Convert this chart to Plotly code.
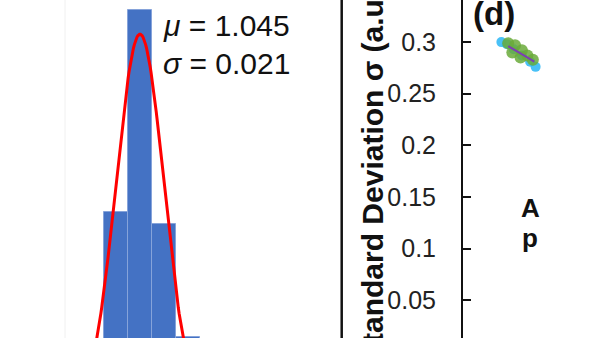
import numpy as np
import plotly.graph_objects as go

# ---- data ----
bin_centers = [1.024, 1.045, 1.066, 1.087]
bin_counts = [10.0, 20.0, 9.4, 3.8]
bin_width = 0.021
mu = 1.045
sigma = 0.021
fit_peak = 18.8

sd_ticks = [0.05, 0.1, 0.15, 0.2, 0.25, 0.3]
sd_ticklabels = ["0.05", "0.1", "0.15", "0.2", "0.25", "0.3"]

cyan_x = [2.8, 3.2, 3.7, 4.3, 4.9, 5.3]
cyan_y = [0.300, 0.298, 0.293, 0.287, 0.281, 0.276]
green_x = [3.3, 3.8, 4.3, 4.7, 5.1, 3.6, 4.2]
green_y = [0.299, 0.297, 0.292, 0.287, 0.283, 0.290, 0.285]
purple_x = [3.3, 4.0, 4.6, 5.2]
purple_y = [0.296, 0.291, 0.286, 0.281]

W, H = 600, 338
FONT = "Liberation Sans, Arial, sans-serif"

fit_x = np.linspace(0.93, 1.16, 300)
fit_y = fit_peak * np.exp(-((fit_x - mu) ** 2) / (2 * sigma ** 2))

fig = go.Figure()
fig.add_trace(go.Bar(x=bin_centers, y=bin_counts, width=bin_width,
                     marker=dict(color="#4472C4", line=dict(color="#86a3da", width=1)),
                     xaxis="x", yaxis="y", showlegend=False))
fig.add_trace(go.Scatter(x=fit_x, y=fit_y, mode="lines",
                         line=dict(color="#ff0000", width=3),
                         xaxis="x", yaxis="y", showlegend=False))

fig.add_trace(go.Scatter(x=cyan_x, y=cyan_y, mode="markers",
                         marker=dict(color="#29b6f6", size=10, opacity=0.85),
                         xaxis="x2", yaxis="y2", showlegend=False))
fig.add_trace(go.Scatter(x=green_x, y=green_y, mode="markers",
                         marker=dict(color="#6aaa3a", size=12, opacity=0.85),
                         xaxis="x2", yaxis="y2", showlegend=False))
fig.add_trace(go.Scatter(x=purple_x, y=purple_y, mode="lines",
                         line=dict(color="#7b3fb5", width=2),
                         xaxis="x2", yaxis="y2", showlegend=False))

# left panel scale: 1143 px per unit, mu at px 140
pxu = 1143.0
left_w = 330.0
x0 = mu - 140 / pxu
# baseline (count 0) 414 px from top (below the visible bottom), 20.2 px per count
ppc = 20.2
ybot = (414 - H) / ppc
ytop = 414 / ppc

# right panel: value 0 at 351.7 px from top, 1032 px per unit
ppu = 1032.0
y2bot = (351.7 - H) / ppu
y2top = 351.7 / ppu

fig.update_layout(
    width=W, height=H,
    margin=dict(l=0, r=0, t=0, b=0),
    paper_bgcolor="white", plot_bgcolor="rgba(0,0,0,0)",
    bargap=0,
    font=dict(family=FONT, color="#1a1a1a"),
    xaxis=dict(domain=[0, left_w / W], range=[x0, x0 + left_w / pxu], visible=False),
    yaxis=dict(domain=[0, 1], range=[ybot, ytop], visible=False),
    xaxis2=dict(domain=[463 / W, 1], range=[0, 10], visible=False, anchor="y2"),
    yaxis2=dict(domain=[0, 1], range=[y2bot, y2top], anchor="x2",
                showline=True, linecolor="#111", linewidth=2,
                ticks="inside", ticklen=8, tickwidth=2, tickcolor="#111",
                tickvals=sd_ticks, ticktext=sd_ticklabels,
                tickfont=dict(size=25, family=FONT, color="#222"),
                ticklabelstandoff=20,
                showgrid=False, zeroline=False),
)

# separator line
fig.add_shape(type="line", xref="paper", yref="paper",
              x0=341.7 / W, x1=341.7 / W, y0=0, y1=1,
              line=dict(color="#111", width=2.5))
# faint line in left panel
fig.add_shape(type="line", xref="paper", yref="paper",
              x0=65 / W, x1=65 / W, y0=0, y1=1,
              line=dict(color="#f0f0f0", width=1))

def ann(text, x, y, size, bold=False, xanchor="left", angle=0, yanchor="middle"):
    fig.add_annotation(text=f"<b>{text}</b>" if bold else text,
                       xref="paper", yref="paper", x=x / W, y=1 - y / H,
                       xanchor=xanchor, yanchor=yanchor, showarrow=False,
                       textangle=angle, font=dict(size=size, family=FONT, color="#111"))

ann("<i>μ</i> = 1.045", 161, 26, 30)
ann("<i>σ</i> = 0.021", 161, 64, 30)
ann("(d)", 471, 14, 33, bold=True)
ann("A", 519, 208, 26, bold=True)
ann("p", 520, 238, 26, bold=True)
ann("Standard Deviation σ (a.u.)", 372, 172, 30, bold=True, xanchor="center", angle=-90)

fig.write_html("out.html")
